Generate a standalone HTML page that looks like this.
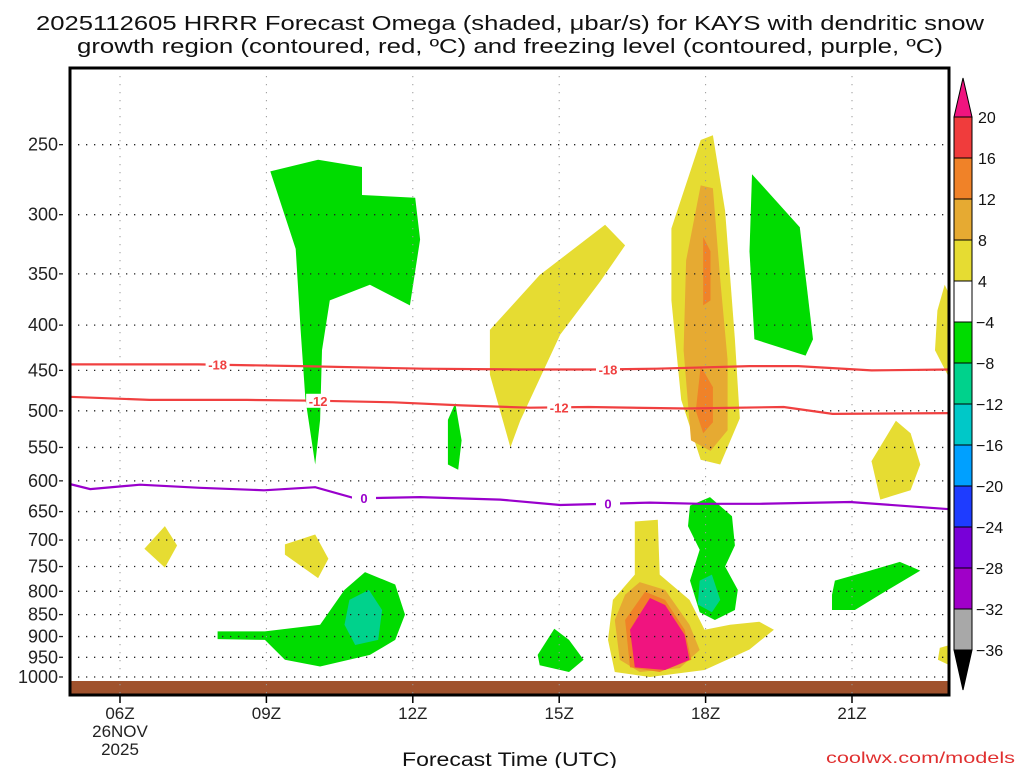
<!DOCTYPE html>
<html><head><meta charset="utf-8">
<style>
html,body{margin:0;padding:0;background:#fff;}
svg{display:block;font-family:"Liberation Sans","DejaVu Sans",sans-serif;}
</style></head>
<body>
<svg id="chart" width="1024" height="768" viewBox="0 0 1024 768" xmlns="http://www.w3.org/2000/svg">
<text x="36" y="30" font-size="20.5" textLength="948" lengthAdjust="spacingAndGlyphs" fill="#111">2025112605 HRRR Forecast Omega (shaded, μbar/s) for KAYS with dendritic snow</text>
<text x="77" y="53" font-size="20.5" textLength="866" lengthAdjust="spacingAndGlyphs" fill="#111">growth region (contoured, red, ºC) and freezing level (contoured, purple, ºC)</text>
<g id="fills"></g>
<g id="ground"></g>
<g id="grid"></g>
<g id="lines"></g>
<rect x="70" y="68" width="879" height="627" fill="none" stroke="#000" stroke-width="3"/>
<g id="yaxis"></g>
<g id="xaxis"></g>
<g id="cbar"></g>
<text x="402" y="766" font-size="19" textLength="215" lengthAdjust="spacingAndGlyphs" fill="#111">Forecast Time (UTC)</text>
<text x="826" y="763" font-size="16" textLength="189" lengthAdjust="spacingAndGlyphs" fill="#e03030">coolwx.com/models</text>
</svg>
<script>
const pTicks=[250,300,350,400,450,500,550,600,650,700,750,800,850,900,950,1000];
const hourTicks=[6,9,12,15,18,21];
const hourLabels=["06Z","09Z","12Z","15Z","18Z","21Z"];
const cbarLevels=[20,16,12,8,4,-4,-8,-12,-16,-20,-24,-28,-32,-36];
const cbarColors=["#f03c3c","#f08228","#e6aa32","#e6dc32","#ffffff","#00dc00","#00d28c","#00c8c8","#00a0ff","#1e3cff","#7800d8","#a000c8","#a8a8a8"];
const freezeHours=[4.97,5.39,6.41,7.64,8.95,10,10.82,12.15,13.79,15.02,16.86,17.88,19.11,20.96,23];
const freezeP=[605,613,606,611,615,610,628,626,630,639,635,637,637,634,646];
const m12Hours=[4.97,6.6,8.6,10,11.6,13,14.4,15.6,17.6,19.6,20.6,23];
const m12P=[482,486,486,487,489,493,496,495,497,495,504,503];
const m18Hours=[4.97,7.6,9.7,12.2,14.2,15.8,17,18.9,19.9,21.4,23];
const m18P=[443,443,445,448,449,449,448,445,445,450,449];
const fillShapes=[
 ["#00dc00",[[9.08,268],[10.06,260],[10.96,265],[10.96,285],[12.05,287],[12.15,320],[11.94,380],[11.12,360],[10.3,375],[10.14,427],[10.1,512],[10.0,575],[9.8,485],[9.7,405],[9.6,328]]],
 ["#00dc00",[[18.95,270],[19.93,310],[20.2,415],[20.05,433],[19.0,415],[18.9,330]]],
 ["#00dc00",[[12.87,490],[13.0,540],[12.93,583],[12.72,575],[12.72,512]]],
 ["#e6dc32",[[13.58,405],[14.6,351],[15.94,308],[16.35,325],[15.84,357],[15.02,410],[14.2,513],[14.0,550],[13.58,455]]],
 ["#e6dc32",[[17.9,247],[18.15,244],[18.4,297],[18.6,415],[18.7,510],[18.3,575],[17.9,568],[17.5,486],[17.3,375],[17.3,311]]],
 ["#e6aa32",[[17.9,278],[18.15,280],[18.3,355],[18.45,438],[18.45,526],[18.1,555],[17.7,540],[17.55,427],[17.6,338]]],
 ["#f08228",[[17.95,318],[18.1,330],[18.1,375],[17.95,380]]],
 ["#f08228",[[17.9,445],[18.15,470],[18.15,515],[17.95,530],[17.8,500]]],
 ["#e6dc32",[[22.9,360],[23,370],[23,460],[22.7,427],[22.75,385]]],
 ["#e6dc32",[[21.9,513],[22.2,530],[22.4,575],[22.2,615],[21.58,630],[21.4,570]]],
 ["#e6dc32",[[6.92,675],[7.17,710],[6.92,752],[6.5,716]]],
 ["#e6dc32",[[9.38,708],[10,690],[10.27,735],[10.06,773],[9.38,727]]],
 ["#00dc00",[[8.0,888],[8.97,888],[10.1,873],[10.6,797],[11.02,761],[11.64,786],[11.84,850],[11.64,908],[11.12,944],[10.1,973],[9.38,956],[8.97,908],[8.0,906]]],
 ["#00d28c",[[10.7,818],[11.1,797],[11.37,840],[11.29,908],[10.82,920],[10.6,873]]],
 ["#00dc00",[[14.9,882],[15.2,908],[15.5,956],[15.2,987],[14.6,970],[14.56,944]]],
 ["#e6dc32",[[16.55,667],[17.02,664],[17.06,766],[17.67,818],[17.98,884],[18.5,873],[19.1,866],[19.4,884],[18.9,931],[17.98,982],[16.86,1000],[16.14,987],[16.0,908],[16.1,818],[16.55,766]]],
 ["#e6aa32",[[16.65,781],[17.17,797],[17.67,873],[17.88,932],[17.47,977],[16.65,987],[16.24,956],[16.14,862],[16.35,807]]],
 ["#f08228",[[16.76,801],[17.17,818],[17.57,884],[17.71,956],[17.06,987],[16.45,975],[16.35,862]]],
 ["#f0147f",[[16.86,814],[17.17,829],[17.57,896],[17.67,956],[17.17,982],[16.55,975],[16.45,884]]],
 ["#00dc00",[[17.68,640],[18.09,626],[18.54,658],[18.6,710],[18.4,750],[18.66,797],[18.6,840],[18.19,862],[17.88,845],[17.68,778],[17.88,718],[17.64,675]]],
 ["#00d28c",[[17.88,778],[18.13,766],[18.3,818],[18.13,845],[17.84,828]]],
 ["#00dc00",[[20.65,778],[21.37,758],[21.98,741],[22.4,758],[21.57,807],[21.06,840],[20.59,840],[20.59,807]]],
 ["#e6dc32",[[22.8,927],[23,920],[23,970],[22.76,956]]]
];
const NS="http://www.w3.org/2000/svg";
function X(h){return 120+(h-6)*48.8;}
function Y(p){return 677-384*Math.log(1000/p);}
function mk(tag,attrs,parent){const e=document.createElementNS(NS,tag);for(const k in attrs)e.setAttribute(k,attrs[k]);parent.appendChild(e);return e;}
const fills=document.getElementById('fills');
fillShapes.forEach((s,i)=>{
 const pts=s[1].map(q=>X(q[0]).toFixed(1)+","+Y(q[1]).toFixed(1)).join(" ");
 const el=mk('polygon',{points:pts,fill:s[0]},fills);
 
 
});
const ground=document.getElementById('ground');
const gr=mk('rect',{x:70,y:681,width:879,height:14,fill:'#a0522d'},ground);


const grid=document.getElementById('grid');
pTicks.forEach(p=>{
 const l=mk('line',{x1:70,x2:949,y1:Y(p),y2:Y(p),stroke:'#222','stroke-width':1.3,'stroke-dasharray':'1.3 6.7'},grid);
 
 
});
hourTicks.forEach(h=>{
 const l=mk('line',{x1:X(h),x2:X(h),y1:68,y2:695,stroke:'#999','stroke-width':1,'stroke-dasharray':'1.3 6.7'},grid);
 
 
});
const lines=document.getElementById('lines');
function contour(hs,ps,color,name,labels,txt){
 const d=hs.map((h,i)=>(i?"L":"M")+X(h).toFixed(1)+" "+Y(ps[i]).toFixed(1)).join(" ");
 const pth=mk('path',{d:d,fill:'none',stroke:color,'stroke-width':2.2},lines);
 
 
 labels.forEach(h=>{
  let i=0;while(i<hs.length-2&&hs[i+1]<h)i++;
  const t=(h-hs[i])/(hs[i+1]-hs[i]);const p=ps[i]+(ps[i+1]-ps[i])*t;
  mk('rect',{x:X(h)-12,y:Y(p)-7,width:24,height:14,fill:'#fff'},lines);
  const tx=mk('text',{x:X(h),y:Y(p)+5,'font-size':13,'font-weight':'bold','text-anchor':'middle',fill:color},lines);
  tx.textContent=txt;
  
  
 });
}
contour(freezeHours,freezeP,'#9900cc','freezing-level-contour',[11.0,16.0],'0');
contour(m12Hours,m12P,'#f04040','minus12-contour',[10.06,15.0],'-12');
contour(m18Hours,m18P,'#f04040','minus18-contour',[8.0,16.0],'-18');
const ya=document.getElementById('yaxis');
pTicks.forEach(p=>{
 const t=mk('text',{x:58,y:Y(p)+6,'font-size':18,'text-anchor':'end',fill:'#222'},ya);
 t.textContent=p;
 
 
 mk('line',{x1:59,x2:63,y1:Y(p),y2:Y(p),stroke:'#222','stroke-width':1.3},ya);
});
const xa=document.getElementById('xaxis');
hourTicks.forEach((h,i)=>{
 mk('line',{x1:X(h),x2:X(h),y1:695,y2:703,stroke:'#000','stroke-width':1.5},xa);
 const t=mk('text',{x:X(h),y:719,'font-size':17,'text-anchor':'middle',fill:'#222'},xa);
 t.textContent=hourLabels[i];
 
 
});
[["26NOV",737],["2025",755]].forEach(a=>{
 const t=mk('text',{x:X(6),y:a[1],'font-size':17,'text-anchor':'middle',fill:'#222'},xa);
 t.textContent=a[0];
 
 
});
const cb=document.getElementById('cbar');
const cx=954,cw=18,ctop=117,step=(650-117)/13;
mk('polygon',{points:`${cx},${ctop} ${cx+cw},${ctop} ${cx+cw/2},78`,fill:'#f0147f',stroke:'#000','stroke-width':1},cb);
cbarColors.forEach((c,i)=>{
 const r=mk('rect',{x:cx,y:ctop+i*step,width:cw,height:step,fill:c,stroke:'#000','stroke-width':1},cb);
 
 
});
mk('polygon',{points:`${cx},650 ${cx+cw},650 ${cx+cw/2},690`,fill:'#000',stroke:'#000','stroke-width':1},cb);
cbarLevels.forEach((v,i)=>{
 const t=mk('text',{x:v<0?976:978,y:ctop+i*step+6,'font-size':16,fill:'#111'},cb);
 t.textContent=v<0?'\u2212'+(-v):v;
 
 
});
</script>
</body></html>
